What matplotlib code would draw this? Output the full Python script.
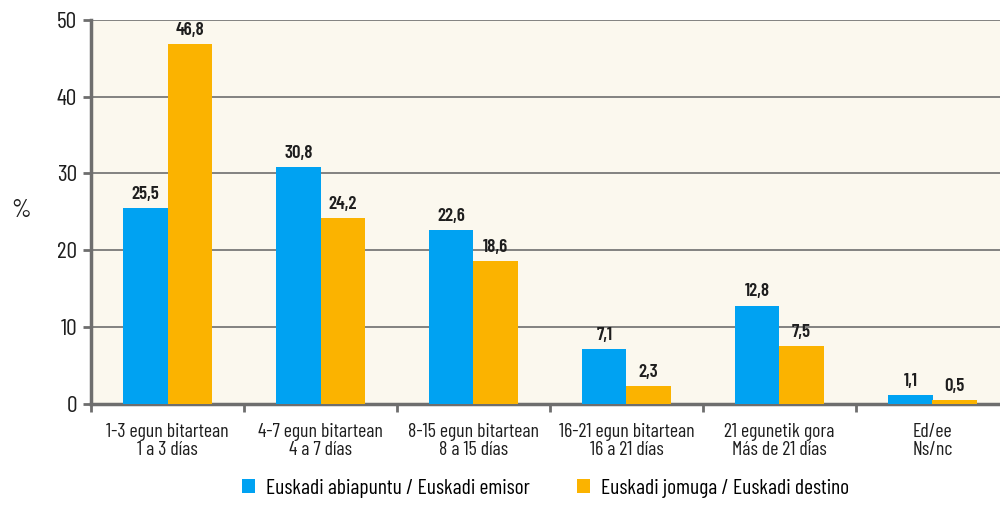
import numpy as np
import matplotlib
matplotlib.use("Agg")
import matplotlib.pyplot as plt

categories = ["1-3 egun bitartean\n1 a 3 días",
              "4-7 egun bitartean\n4 a 7 días",
              "8-15 egun bitartean\n8 a 15 días",
              "16-21 egun bitartean\n16 a 21 días",
              "21 egunetik gora\nMás de 21 días",
              "Ed/ee\nNs/nc"]
emisor = [25.5, 30.8, 22.6, 7.1, 12.8, 1.1]
destino = [46.8, 24.2, 18.6, 2.3, 7.5, 0.5]
series_names = ["Euskadi abiapuntu / Euskadi emisor",
                "Euskadi jomuga / Euskadi destino"]
yticks = [0, 10, 20, 30, 40, 50]

plt.rcParams["font.family"] = ["Barlow Condensed", "Archivo Narrow", "DejaVu Sans"]

blue = "#00A2F2"
orange = "#FBB300"
grid_c = "#6E6E6E"
txt_c = "#1E1E1E"

fig = plt.figure(figsize=(10, 5.08), dpi=100)
ax = fig.add_axes([0.091, 0.205, 0.909, 0.756])
ax.set_facecolor("#FBF8EE")

x = np.arange(len(categories))
w = 0.29
b1 = ax.bar(x - w / 2, emisor, w, color=blue, label=series_names[0], zorder=3)
b2 = ax.bar(x + w / 2, destino, w, color=orange, label=series_names[1], zorder=3)


def fmt(v):
    return f"{v:.1f}".replace(".", ",")


for bars, vals in ((b1, emisor), (b2, destino)):
    for r, v in zip(bars, vals):
        ax.text(r.get_x() + r.get_width() / 2, v + 0.7, fmt(v), ha="center",
                va="bottom", fontsize=13.5, fontweight="semibold", color=txt_c, zorder=4)

ax.set_ylim(0, 50)
ax.set_xlim(-0.5, (1000 - 91) / 153 - 0.5)
ax.set_yticks(yticks)
ax.set_yticklabels([str(t) for t in yticks], fontsize=17, color=txt_c)
ax.yaxis.grid(True, color=grid_c, linewidth=1.2, zorder=1)

ax.set_xticks(x)
ax.set_xticklabels(categories, fontsize=14.3, color=txt_c, linespacing=1.0)
ax.set_xticks(np.arange(len(categories)) - 0.5, minor=True)
ax.tick_params(axis="x", which="major", length=0, pad=14)
ax.tick_params(axis="x", which="minor", length=6, width=2, color=grid_c)
ax.tick_params(axis="y", length=6, width=2, color=grid_c, pad=4)

for s in ("top", "right"):
    ax.spines[s].set_visible(False)
for s in ("left", "bottom"):
    ax.spines[s].set_color(grid_c)
    ax.spines[s].set_linewidth(2.5)

fig.text(0.021, 0.585, "%", fontsize=18, ha="center", va="center", color=txt_c)

ax.legend(loc="upper center", bbox_to_anchor=(0.5, -0.145), ncol=2, frameon=False,
          fontsize=15.5, handlelength=0.6, handleheight=0.6, handletextpad=0.5,
          columnspacing=2.2)

fig.savefig("out.png", dpi=100)
